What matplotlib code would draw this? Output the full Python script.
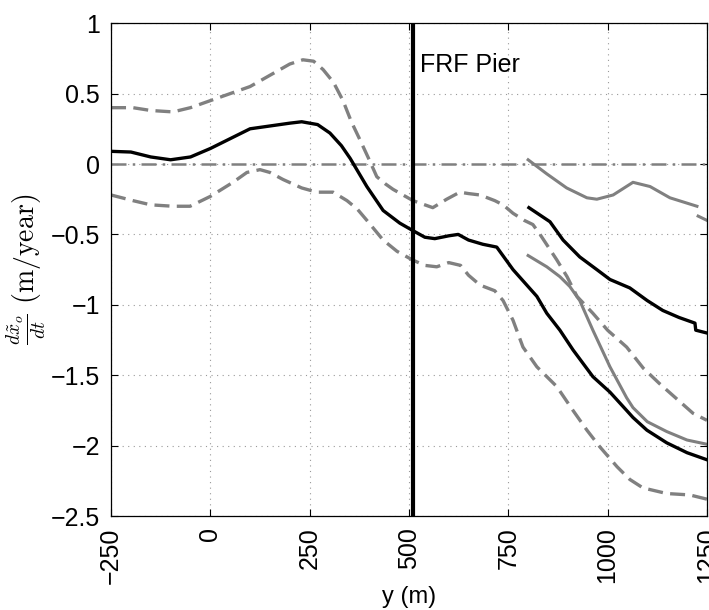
import numpy as np
import matplotlib
matplotlib.use("Agg")
import matplotlib.pyplot as plt

plt.rcParams['font.family'] = ['Liberation Sans', 'DejaVu Sans']
plt.rcParams['mathtext.fontset'] = 'cm'

# main estimate along the shore (black) with its upper / lower bounds (grey dashed)
y_main = [-250, -200, -150, -100, -50, 0, 50, 100, 150, 200, 230, 270, 301, 330, 352, 394,
          435, 477, 508, 540, 565, 600, 624, 650, 686, 721, 762, 822, 847, 880, 913, 963,
          1006, 1048, 1064, 1099, 1149, 1200, 1250]
rate_main = [0.09, 0.085, 0.05, 0.03, 0.05, 0.11, 0.18, 0.25, 0.27, 0.29, 0.30, 0.28, 0.22,
             0.13, 0.04, -0.16, -0.33, -0.42, -0.47, -0.52, -0.53, -0.51, -0.50, -0.54,
             -0.57, -0.59, -0.75, -0.94, -1.06, -1.18, -1.32, -1.51, -1.62, -1.75, -1.80,
             -1.89, -1.98, -2.05, -2.10]

y_up = [-250, -195, -150, -94, -50, 0, 50, 100, 150, 200, 233, 260, 284, 310, 334, 355,
        377, 400, 419, 440, 460, 510, 540, 560, 595, 628, 650, 679, 716, 737, 762, 790,
        812, 830, 872, 898, 923, 963, 1000, 1048, 1090, 1131, 1175, 1215, 1250]
rate_up = [0.40, 0.40, 0.38, 0.37, 0.40, 0.45, 0.50, 0.55, 0.63, 0.71, 0.74, 0.73, 0.67,
           0.58, 0.45, 0.30, 0.17, 0.03, -0.09, -0.14, -0.18, -0.26, -0.29, -0.31, -0.25,
           -0.20, -0.21, -0.22, -0.26, -0.29, -0.35, -0.40, -0.43, -0.50, -0.68, -0.80,
           -0.94, -1.06, -1.18, -1.30, -1.45, -1.56, -1.67, -1.77, -1.82]

y_lo = [-250, -195, -150, -94, -51, 0, 57, 92, 125, 150, 183, 230, 268, 309, 344, 370, 394,
        435, 470, 508, 540, 570, 600, 630, 650, 679, 716, 737, 762, 787, 822, 872, 913,
        948, 981, 1024, 1056, 1089, 1149, 1207, 1250]
rate_lo = [-0.22, -0.26, -0.29, -0.30, -0.30, -0.23, -0.13, -0.06, -0.04, -0.06, -0.11,
           -0.17, -0.20, -0.20, -0.26, -0.32, -0.40, -0.54, -0.62, -0.68, -0.72, -0.73,
           -0.70, -0.72, -0.79, -0.86, -0.90, -0.97, -1.11, -1.30, -1.44, -1.58, -1.75,
           -1.89, -2.01, -2.15, -2.24, -2.30, -2.34, -2.35, -2.38]

# second estimate north of the pier (y >= 800)
y_r_up = [800, 847, 897, 948, 973, 1014, 1064, 1107, 1157, 1225, np.nan, 1228, 1250]
rate_r_up = [0.03, -0.07, -0.17, -0.24, -0.25, -0.22, -0.13, -0.16, -0.24, -0.30, np.nan,
             -0.37, -0.40]

y_r_mid = [802, 855, 888, 930, 973, 1006, 1056, 1100, 1139, 1180, 1220, 1222, 1250]
rate_r_mid = [-0.31, -0.41, -0.54, -0.66, -0.75, -0.82, -0.88, -0.97, -1.04, -1.09, -1.13,
              -1.18, -1.20]

y_r_lo = [800, 847, 880, 905, 930, 963, 1006, 1048, 1064, 1100, 1149, 1200, 1250]
rate_r_lo = [-0.65, -0.73, -0.80, -0.87, -0.97, -1.18, -1.44, -1.66, -1.73, -1.83, -1.90,
             -1.96, -1.99]

pier_y = 510
xticks = [-250, 0, 250, 500, 750, 1000, 1250]
yticks = [-2.5, -2, -1.5, -1, -0.5, 0, 0.5, 1]

grey = '#808080'

def lab(v):
    return ('%g' % v).replace('-', '\u2212')

fig = plt.figure(figsize=(7.09, 6.10), dpi=100)
ax = fig.add_axes([0.1566, 0.154, 0.8404, 0.808])

ax.axhline(0, color=grey, lw=1.8, dashes=(6, 2.5, 1, 2.5))
ax.plot(y_up, rate_up, color=grey, lw=2.4, dashes=(4.5, 2.2))
ax.plot(y_lo, rate_lo, color=grey, lw=2.4, dashes=(4.5, 2.2))
ax.plot(y_main, rate_main, color='black', lw=2.4)
ax.plot(y_r_up, rate_r_up, color=grey, lw=2.2)
ax.plot(y_r_lo, rate_r_lo, color=grey, lw=2.2)
ax.plot(y_r_mid, rate_r_mid, color='black', lw=2.4)
ax.axvline(pier_y, color='black', lw=3)
ax.text(pier_y + 18, 0.70, 'FRF Pier', fontsize=18, va='center', ha='left')

ax.set_xlim(-250, 1250)
ax.set_ylim(-2.5, 1)
ax.set_xticks(xticks)
ax.set_xticklabels([lab(t) for t in xticks], rotation=90)
ax.set_yticks(yticks)
ax.set_yticklabels([lab(t) for t in yticks])
ax.tick_params(direction='in', length=5, width=0.8, labelsize=18, top=True, right=True, pad=8)
ax.grid(True, linestyle=(0, (1, 4)), color='#999999', lw=0.8)
for s in ax.spines.values():
    s.set_linewidth(0.9)

ax.set_xlabel('y (m)', fontsize=17, labelpad=2)
ax.set_ylabel(r'$\frac{d\tilde{x}_o}{dt}\ (\mathrm{m/year})$', fontsize=20, labelpad=2)

fig.savefig('out.png', dpi=100)
